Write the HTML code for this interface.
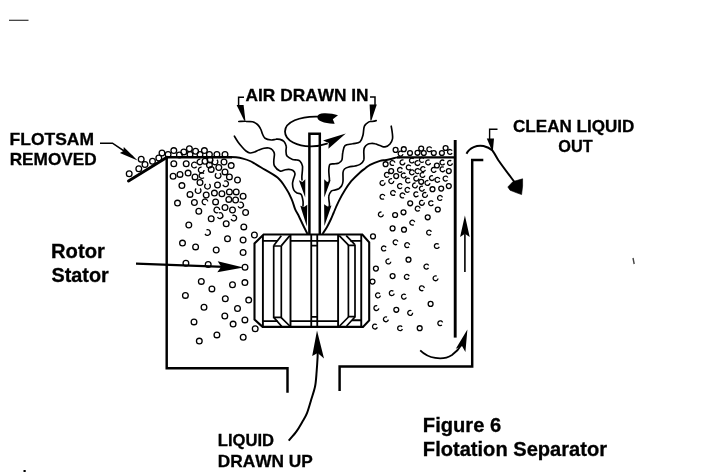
<!DOCTYPE html>
<html><head><meta charset="utf-8"><title>Figure 6 Flotation Separator</title>
<style>
html,body{margin:0;padding:0;background:#fff;}
body{width:720px;height:472px;overflow:hidden;font-family:"Liberation Sans",sans-serif;}
svg{display:block;}
text{font-family:"Liberation Sans",sans-serif;font-weight:bold;fill:#000;stroke:#000;stroke-width:0.3px;font-kerning:none;}
svg{filter:grayscale(1);}
</style></head><body>
<svg width="720" height="472" viewBox="0 0 720 472">
<rect width="720" height="472" fill="#fff"/>
<g fill="none" stroke="#000" stroke-width="1.3">
<circle cx="129.2" cy="173.8" r="2.85"/>
<circle cx="138.8" cy="168.8" r="2.85"/>
<circle cx="141.2" cy="159.2" r="2.85"/>
<circle cx="145.0" cy="164.5" r="2.85"/>
<circle cx="152.5" cy="161.2" r="2.85"/>
<circle cx="158.8" cy="158.0" r="2.85"/>
<circle cx="162.0" cy="153.0" r="2.85"/>
<circle cx="168.1" cy="154.4" r="2.85"/>
<circle cx="173.8" cy="150.6" r="2.85"/>
<circle cx="179.4" cy="155.0" r="2.85"/>
<circle cx="183.8" cy="151.9" r="2.85"/>
<circle cx="189.4" cy="148.8" r="2.85"/>
<circle cx="190.0" cy="154.4" r="2.85"/>
<circle cx="195.6" cy="151.2" r="2.85"/>
<circle cx="200.0" cy="154.4" r="2.85"/>
<circle cx="204.4" cy="150.6" r="2.85"/>
<circle cx="209.4" cy="154.4" r="2.85"/>
<circle cx="216.9" cy="154.4" r="2.85"/>
<circle cx="225.0" cy="154.4" r="2.85"/>
<circle cx="173.8" cy="163.8" r="2.85"/>
<circle cx="186.2" cy="163.8" r="2.85"/>
<path d="M196.7 166.7A2.85 2.85 0 1 1 196.7 163.3"/>
<path d="M202.8 162.0A2.85 2.85 0 1 1 200.4 159.1"/>
<circle cx="205.0" cy="161.2" r="2.85"/>
<circle cx="209.4" cy="165.0" r="2.85"/>
<path d="M216.9 159.8A2.85 2.85 0 1 1 213.1 159.8"/>
<circle cx="218.8" cy="167.5" r="2.85"/>
<circle cx="231.2" cy="165.6" r="2.85"/>
<path d="M204.1 170.1A2.85 2.85 0 1 1 201.6 167.2"/>
<circle cx="211.2" cy="169.4" r="2.85"/>
<circle cx="225.0" cy="171.9" r="2.85"/>
<circle cx="173.1" cy="176.2" r="2.85"/>
<circle cx="180.0" cy="174.4" r="2.85"/>
<circle cx="188.1" cy="173.1" r="2.85"/>
<circle cx="195.0" cy="176.9" r="2.85"/>
<path d="M204.0 177.6A2.85 2.85 0 1 1 204.0 173.6"/>
<path d="M219.8 173.3A2.85 2.85 0 1 1 216.4 173.3"/>
<circle cx="229.4" cy="176.9" r="2.85"/>
<circle cx="237.5" cy="180.0" r="2.85"/>
<circle cx="181.9" cy="185.6" r="2.85"/>
<circle cx="200.0" cy="182.5" r="2.85"/>
<path d="M209.3 184.0A2.85 2.85 0 1 1 205.7 184.0"/>
<circle cx="217.5" cy="185.0" r="2.85"/>
<path d="M224.1 181.3A2.85 2.85 0 1 1 222.9 184.7"/>
<circle cx="190.0" cy="194.4" r="2.85"/>
<path d="M200.0 188.5A2.85 2.85 0 1 1 196.2 188.5"/>
<circle cx="206.2" cy="195.0" r="2.85"/>
<circle cx="214.4" cy="193.1" r="2.85"/>
<circle cx="221.9" cy="193.8" r="2.85"/>
<circle cx="229.4" cy="191.9" r="2.85"/>
<circle cx="236.2" cy="191.9" r="2.85"/>
<circle cx="243.1" cy="196.2" r="2.85"/>
<circle cx="228.8" cy="199.4" r="2.85"/>
<circle cx="235.6" cy="200.0" r="2.85"/>
<circle cx="177.5" cy="203.1" r="2.85"/>
<circle cx="194.4" cy="202.5" r="2.85"/>
<path d="M205.8 204.6A2.85 2.85 0 1 1 207.8 201.3"/>
<circle cx="210.0" cy="160.0" r="2.85"/>
<circle cx="224.0" cy="162.0" r="2.85"/>
<path d="M239.5 202.4A2.85 2.85 0 1 1 238.1 206.3"/>
<circle cx="215.6" cy="201.9" r="2.85"/>
<circle cx="225.0" cy="207.5" r="2.85"/>
<circle cx="232.5" cy="210.0" r="2.85"/>
<circle cx="245.6" cy="212.5" r="2.85"/>
<circle cx="198.8" cy="211.2" r="2.85"/>
<path d="M218.2 212.5A2.85 2.85 0 1 1 219.7 209.9"/>
<path d="M218.9 213.0A2.85 2.85 0 1 1 217.5 217.0"/>
<circle cx="211.2" cy="218.8" r="2.85"/>
<path d="M232.4 215.6A2.85 2.85 0 1 1 231.1 219.1"/>
<circle cx="188.8" cy="225.0" r="2.85"/>
<circle cx="226.2" cy="223.8" r="2.85"/>
<circle cx="243.8" cy="226.9" r="2.85"/>
<path d="M206.5 229.8A2.85 2.85 0 1 1 205.0 233.9"/>
<circle cx="254.4" cy="235.0" r="2.85"/>
<circle cx="227.5" cy="238.8" r="2.85"/>
<circle cx="243.1" cy="240.0" r="2.85"/>
<circle cx="182.5" cy="243.1" r="2.85"/>
<circle cx="195.6" cy="246.9" r="2.85"/>
<circle cx="216.2" cy="250.0" r="2.85"/>
<circle cx="243.1" cy="252.5" r="2.85"/>
<circle cx="185.9" cy="263.3" r="2.85"/>
<circle cx="208.2" cy="264.4" r="2.85"/>
<circle cx="245.0" cy="267.3" r="2.85"/>
<circle cx="201.3" cy="281.4" r="2.85"/>
<circle cx="211.9" cy="288.9" r="2.85"/>
<circle cx="232.5" cy="284.7" r="2.85"/>
<circle cx="244.9" cy="282.6" r="2.85"/>
<circle cx="185.4" cy="295.4" r="2.85"/>
<circle cx="225.3" cy="298.8" r="2.85"/>
<circle cx="248.7" cy="300.1" r="2.85"/>
<circle cx="204.0" cy="307.3" r="2.85"/>
<circle cx="237.5" cy="308.5" r="2.85"/>
<circle cx="224.8" cy="316.0" r="2.85"/>
<circle cx="244.9" cy="319.9" r="2.85"/>
<circle cx="194.0" cy="321.9" r="2.85"/>
<circle cx="233.1" cy="324.1" r="2.85"/>
<circle cx="255.2" cy="328.7" r="2.85"/>
<circle cx="216.9" cy="334.9" r="2.85"/>
<circle cx="243.2" cy="337.3" r="2.85"/>
<circle cx="199.3" cy="341.1" r="2.85"/>
<circle cx="395.6" cy="149.9" r="2.45"/>
<circle cx="403.8" cy="149.2" r="2.45"/>
<path d="M403.0 154.2A2.45 2.45 0 1 1 402.6 152.2"/>
<circle cx="410.0" cy="153.0" r="2.45"/>
<circle cx="417.5" cy="152.8" r="2.45"/>
<circle cx="421.2" cy="148.6" r="2.45"/>
<circle cx="423.8" cy="153.0" r="2.45"/>
<path d="M431.6 150.2A2.45 2.45 0 1 1 431.6 148.3"/>
<circle cx="433.8" cy="153.0" r="2.45"/>
<circle cx="441.9" cy="153.0" r="2.45"/>
<circle cx="445.6" cy="148.0" r="2.45"/>
<path d="M452.1 153.2A2.45 2.45 0 1 1 452.1 150.7"/>
<circle cx="385.6" cy="164.2" r="2.45"/>
<path d="M393.9 165.0A2.45 2.45 0 1 1 394.9 162.7"/>
<path d="M404.9 162.6A2.45 2.45 0 1 1 403.5 160.2"/>
<path d="M414.1 161.6A2.45 2.45 0 1 1 413.7 158.8"/>
<path d="M419.9 163.5A2.45 2.45 0 1 1 418.5 160.8"/>
<path d="M423.7 161.6A2.45 2.45 0 1 1 423.9 158.5"/>
<path d="M430.5 163.0A2.45 2.45 0 1 1 429.5 160.4"/>
<circle cx="436.9" cy="165.5" r="2.45"/>
<path d="M444.6 163.7A2.45 2.45 0 1 1 444.2 160.7"/>
<path d="M452.4 163.3A2.45 2.45 0 1 1 451.3 160.9"/>
<path d="M410.8 168.8A2.45 2.45 0 1 1 410.8 166.1"/>
<path d="M402.0 171.3A2.45 2.45 0 1 1 402.3 169.2"/>
<circle cx="391.2" cy="171.1" r="2.45"/>
<path d="M388.8 176.4A2.45 2.45 0 1 1 389.3 174.3"/>
<path d="M419.2 172.9A2.45 2.45 0 1 1 419.6 169.8"/>
<path d="M425.4 169.9A2.45 2.45 0 1 1 425.1 167.8"/>
<path d="M436.1 170.7A2.45 2.45 0 1 1 435.2 167.9"/>
<path d="M444.8 170.2A2.45 2.45 0 1 1 443.8 167.2"/>
<circle cx="448.8" cy="171.1" r="2.45"/>
<circle cx="396.2" cy="176.1" r="2.45"/>
<path d="M406.1 176.0A2.45 2.45 0 1 1 405.4 173.7"/>
<path d="M414.2 173.3A2.45 2.45 0 1 1 414.2 171.4"/>
<path d="M424.9 175.6A2.45 2.45 0 1 1 424.0 173.0"/>
<path d="M418.7 178.5A2.45 2.45 0 1 1 417.4 176.4"/>
<path d="M434.3 178.5A2.45 2.45 0 1 1 432.9 175.8"/>
<path d="M439.7 180.9A2.45 2.45 0 1 1 439.8 179.0"/>
<path d="M447.5 180.1A2.45 2.45 0 1 1 447.8 177.6"/>
<path d="M384.9 182.6A2.45 2.45 0 1 1 383.7 180.9"/>
<path d="M393.7 180.9A2.45 2.45 0 1 1 392.0 178.8"/>
<path d="M402.0 187.5A2.45 2.45 0 1 1 402.1 184.9"/>
<path d="M410.2 181.7A2.45 2.45 0 1 1 409.7 178.7"/>
<circle cx="421.2" cy="181.8" r="2.45"/>
<path d="M417.4 185.4A2.45 2.45 0 1 1 415.6 183.1"/>
<path d="M429.9 183.1A2.45 2.45 0 1 1 428.4 180.7"/>
<circle cx="448.8" cy="186.1" r="2.45"/>
<path d="M424.3 189.0A2.45 2.45 0 1 1 422.9 186.4"/>
<circle cx="432.5" cy="189.2" r="2.45"/>
<circle cx="441.2" cy="188.6" r="2.45"/>
<path d="M409.4 191.4A2.45 2.45 0 1 1 409.8 189.1"/>
<path d="M395.0 194.5A2.45 2.45 0 1 1 395.5 192.6"/>
<path d="M404.0 197.4A2.45 2.45 0 1 1 404.9 194.8"/>
<path d="M418.4 195.5A2.45 2.45 0 1 1 418.0 192.6"/>
<path d="M427.4 194.6A2.45 2.45 0 1 1 426.3 192.9"/>
<path d="M384.0 198.7A2.45 2.45 0 1 1 384.8 195.9"/>
<path d="M442.0 199.4A2.45 2.45 0 1 1 442.4 197.4"/>
<circle cx="410.2" cy="203.3" r="2.45"/>
<path d="M424.3 202.4A2.45 2.45 0 1 1 423.3 200.8"/>
<path d="M433.3 204.4A2.45 2.45 0 1 1 433.1 201.8"/>
<path d="M419.6 210.2A2.45 2.45 0 1 1 420.1 208.3"/>
<circle cx="437.8" cy="209.5" r="2.45"/>
<circle cx="403.5" cy="212.3" r="2.45"/>
<circle cx="395.1" cy="215.0" r="2.45"/>
<path d="M383.3 214.5A2.45 2.45 0 1 1 381.5 212.1"/>
<circle cx="427.7" cy="217.3" r="2.45"/>
<path d="M413.7 224.6A2.45 2.45 0 1 1 414.7 222.2"/>
<circle cx="392.6" cy="228.4" r="2.45"/>
<circle cx="404.0" cy="229.7" r="2.45"/>
<path d="M430.9 234.3A2.45 2.45 0 1 1 431.4 231.8"/>
<circle cx="373.0" cy="236.4" r="2.45"/>
<path d="M397.0 244.3A2.45 2.45 0 1 1 397.9 241.4"/>
<path d="M409.0 246.8A2.45 2.45 0 1 1 409.6 244.8"/>
<path d="M439.2 246.7A2.45 2.45 0 1 1 438.7 244.4"/>
<path d="M385.9 249.9A2.45 2.45 0 1 1 386.1 247.4"/>
<circle cx="408.5" cy="259.7" r="2.45"/>
<path d="M390.8 261.7A2.45 2.45 0 1 1 389.3 259.2"/>
<path d="M428.5 267.9A2.45 2.45 0 1 1 428.6 265.5"/>
<circle cx="375.9" cy="268.6" r="2.45"/>
<circle cx="392.6" cy="276.1" r="2.45"/>
<path d="M408.9 278.2A2.45 2.45 0 1 1 409.2 276.2"/>
<path d="M438.0 278.5A2.45 2.45 0 1 1 436.7 276.1"/>
<circle cx="372.5" cy="281.6" r="2.45"/>
<path d="M423.3 290.3A2.45 2.45 0 1 1 424.3 288.1"/>
<path d="M380.4 295.7A2.45 2.45 0 1 1 379.9 293.8"/>
<path d="M394.2 293.6A2.45 2.45 0 1 1 393.4 291.3"/>
<path d="M406.3 297.4A2.45 2.45 0 1 1 405.7 294.9"/>
<circle cx="430.6" cy="303.9" r="2.45"/>
<path d="M378.8 308.4A2.45 2.45 0 1 1 377.2 305.8"/>
<circle cx="396.3" cy="309.8" r="2.45"/>
<path d="M412.6 312.7A2.45 2.45 0 1 1 411.4 310.8"/>
<path d="M388.3 319.6A2.45 2.45 0 1 1 387.0 317.1"/>
<path d="M441.9 325.1A2.45 2.45 0 1 1 442.6 322.4"/>
<path d="M377.3 327.3A2.45 2.45 0 1 1 376.7 324.8"/>
<path d="M402.4 329.1A2.45 2.45 0 1 1 402.1 326.8"/>
<circle cx="419.7" cy="328.2" r="2.45"/>
</g>
<g fill="none" stroke="#000" stroke-linecap="butt" stroke-linejoin="miter">
<path d="M166.7 156.5V368.2H287.5V392.8" stroke-width="2.45"/>
<path d="M339.6 391V366.4H472.2V160H483.3" stroke-width="2.45"/>
<path d="M455.2 140V337.6" stroke-width="2.9"/>
<path d="M128.5 181L167 157.3" stroke-width="3" stroke-linecap="round"/>
<path d="M228.0 157.0C229.3 157.1 233.5 157.0 236.0 157.3C238.5 157.6 240.7 158.0 243.0 158.6C245.3 159.2 248.0 160.1 250.0 161.0C252.0 161.9 253.1 162.7 255.0 163.8C256.9 164.9 257.5 165.2 261.2 167.5C265.0 169.8 273.3 174.0 277.5 177.5C281.7 181.0 283.9 185.2 286.2 188.8C288.6 192.3 290.0 195.4 291.5 198.8C293.0 202.1 293.8 205.8 295.0 208.8C296.2 211.7 297.7 213.8 299.0 216.5C300.3 219.2 301.6 222.1 303.0 225.0C304.4 227.9 306.8 232.5 307.5 234.0" stroke-width="1.9"/>
<path d="M166 157.3H232" stroke-width="2.4"/>
<path d="M400.0 157.4C399.3 157.4 397.5 157.3 396.0 157.6C394.5 157.9 392.8 158.6 391.0 159.0C389.2 159.4 386.8 159.9 385.0 160.2C383.2 160.5 382.5 160.0 380.0 160.8C377.5 161.6 372.5 163.5 370.0 164.8C367.5 166.1 366.7 167.2 365.0 168.5C363.3 169.8 362.3 170.4 360.0 172.5C357.7 174.6 353.8 178.3 351.2 181.2C348.8 184.2 347.1 186.7 345.0 190.0C342.9 193.3 340.6 197.5 338.8 201.2C336.9 205.0 335.0 209.5 333.8 212.5C332.5 215.5 332.1 216.6 331.0 219.0C329.9 221.4 328.4 224.5 327.0 227.0C325.6 229.5 323.2 232.8 322.5 234.0" stroke-width="1.9"/>
<path d="M455 157.4H397" stroke-width="2.4"/>
<path d="M309.4 234V133.7H319.8V234" stroke-width="2.5" fill="#fff"/>
</g>
<g fill="none" stroke="#000" stroke-linejoin="miter">
<path d="M263.6 234.5H362.3L369.2 242.4V320.4L363 326.9H262.6L254.5 319.5V243.4Z" stroke-width="2.1" fill="#fff"/>
<path d="M262.9 240.9H277M290.6 240.9H338.2M350.3 240.9H361.2" stroke-width="1.9"/>
<path d="M262.9 321.1H277.6M290.3 321.1H338M352 320.2H361.3" stroke-width="1.9"/>
<path d="M262.9 235V326.5M290.5 235V326.5M338.1 235V326.5M361.25 235V326.5" stroke-width="1.9"/>
<path d="M273.7 246V317.3H281.3V246Z" stroke-width="1.7"/>
<path d="M273.8 245.6L281.3 235.8M281.4 245.6L289.8 235.6M274 317.6L282 326.8M281.2 317.6L289.8 326" stroke-width="1.7"/>
<path d="M348.4 245.3V316.6H355V245.3Z" stroke-width="1.7"/>
<path d="M339.2 235.6L348.5 245.2M346.2 235.6L354.9 244.6M348.5 317L339.6 326M354.9 317L346.6 326" stroke-width="1.7"/>
<path d="M311.25 235V326M317.25 235V326M311.25 245.6H317.25M311.25 316.9H317.25" stroke-width="1.8"/>
</g>
<g fill="none" stroke="#000" stroke-width="1.65" stroke-linecap="round" stroke-linejoin="round">
<path d="M238.8 121.5C240.0 121.5 243.7 121.2 246.0 121.3C248.3 121.3 250.6 121.3 252.5 121.8C254.4 122.3 256.1 123.3 257.5 124.5C258.9 125.7 259.8 127.2 260.6 128.8C261.4 130.3 261.8 132.4 262.5 134.0C263.2 135.6 263.5 137.2 265.0 138.2C266.5 139.2 269.4 139.8 271.2 140.0C273.1 140.2 274.5 139.3 276.0 139.2C277.5 139.1 278.7 139.0 280.0 139.4C281.3 139.8 283.0 140.4 284.0 141.5C285.0 142.6 285.9 144.7 286.2 146.2C286.6 147.8 285.9 149.4 286.0 151.0C286.1 152.6 285.9 154.6 287.0 156.0C288.1 157.4 290.8 158.7 292.5 159.4C294.2 160.1 295.8 159.7 297.0 160.0C298.2 160.3 299.1 160.2 300.0 161.2C300.9 162.3 302.2 163.8 302.5 166.2C302.8 168.8 302.0 174.0 301.9 176.2C301.8 178.5 302.0 179.4 302.0 180.0"/>
<path d="M234.4 136.2C235.0 137.2 236.7 140.1 238.0 142.0C239.3 143.9 241.2 146.0 242.5 147.5C243.8 149.0 244.8 150.1 246.0 151.0C247.2 151.9 248.6 152.8 250.0 153.0C251.4 153.2 253.0 152.5 254.5 152.0C256.0 151.5 257.2 150.6 258.8 150.0C260.3 149.4 262.3 148.5 264.0 148.2C265.7 147.9 267.3 147.7 268.8 148.0C270.2 148.3 271.6 149.0 272.5 150.0C273.4 151.0 274.2 151.9 274.4 153.8C274.6 155.6 273.7 159.0 273.8 161.0C273.8 163.0 273.5 164.3 274.5 166.0C275.5 167.7 278.3 170.3 280.0 171.0C281.7 171.7 283.0 170.3 284.5 170.0C286.0 169.7 287.3 169.3 288.8 169.4C290.2 169.5 292.0 169.8 293.0 170.5C294.0 171.2 294.9 172.3 295.0 173.8C295.1 175.2 293.9 177.3 293.5 179.0C293.1 180.7 292.5 181.9 292.5 183.8C292.5 185.6 293.0 188.5 293.8 190.0C294.5 191.5 295.8 192.3 297.0 193.0C298.2 193.7 300.2 193.1 301.2 194.4C302.2 195.7 302.7 199.1 303.0 201.0C303.3 202.9 303.0 205.2 303.0 206.0"/>
<path d="M376.2 120.6C375.5 120.8 373.2 121.3 372.0 121.5C370.8 121.7 370.0 121.1 368.8 121.9C367.5 122.7 365.4 124.1 364.4 126.2C363.4 128.4 363.7 132.4 363.0 135.0C362.3 137.6 361.8 140.4 360.0 141.9C358.2 143.4 355.0 143.1 352.5 143.8C350.0 144.4 346.6 144.1 345.0 145.6C343.4 147.1 343.3 150.1 342.8 152.5C342.2 154.9 342.6 158.2 341.9 160.0C341.2 161.8 339.9 162.4 338.8 163.0C337.6 163.6 336.5 163.5 335.0 163.8C333.5 164.0 331.0 163.4 330.0 164.4C329.0 165.4 328.9 167.6 328.8 170.0C328.6 172.4 329.3 176.9 329.4 178.8C329.5 180.6 329.3 180.6 329.3 181.0"/>
<path d="M391.2 126.2C391.4 127.4 392.1 130.9 392.3 133.0C392.5 135.1 392.9 136.9 392.5 138.8C392.1 140.6 391.2 142.6 390.0 144.0C388.8 145.4 386.7 146.7 385.0 146.9C383.3 147.2 381.7 146.0 380.0 145.5C378.3 145.0 376.5 144.1 375.0 143.8C373.5 143.4 372.2 143.4 371.0 143.5C369.8 143.6 368.6 143.7 367.5 144.4C366.4 145.1 365.1 146.4 364.5 147.5C363.9 148.6 363.9 149.2 363.8 151.2C363.6 153.3 364.4 157.8 363.8 160.0C363.1 162.2 361.5 163.4 360.0 164.4C358.5 165.4 356.9 165.6 355.0 166.0C353.1 166.4 350.5 166.5 348.8 167.0C347.0 167.5 345.5 168.1 344.5 169.0C343.5 169.9 343.2 170.5 343.0 172.5C342.8 174.5 343.2 179.0 343.0 181.2C342.8 183.5 342.2 184.8 341.5 186.0C340.8 187.2 339.8 188.1 338.8 188.8C337.7 189.4 336.2 189.6 335.0 190.0C333.8 190.4 332.3 190.2 331.2 191.2C330.2 192.3 329.1 194.2 328.8 196.2C328.4 198.3 329.3 202.1 329.4 203.8C329.5 205.4 329.3 205.6 329.3 206.0"/>
</g>
<path d="M305.2 197.5L298.9 180.3L302.4 181.9L305.3 179.2Z" fill="#000" stroke="none"/>
<path d="M306.8 226.5L300.3 205.7L304.0 206.9L307.3 204.7Z" fill="#000" stroke="none"/>
<path d="M324.3 197.5L324.2 179.2L327.1 181.9L330.6 180.3Z" fill="#000" stroke="none"/>
<path d="M324.4 226.0L324.1 204.2L327.5 206.5L331.5 205.4Z" fill="#000" stroke="none"/>
<g fill="none" stroke="#000" stroke-width="1.5">
<path d="M244 97.2H238.6V106"/>
<path d="M370 96.9H375V106"/>
</g>
<path d="M236.6 105L243.6 105L245.3 119.8L244.4 121Z" fill="#000"/>
<path d="M369.6 104.6L376.8 104.6L371.4 120.6L370.4 120.6Z" fill="#000"/>
<g fill="none" stroke="#000" stroke-width="1.8" stroke-linecap="round">
<path d="M318 116.6C300 116 285 122 285 131.5C285 141 298 146.5 311 146.3C318 146.2 323 145 327 143.6"/>
</g>
<path d="M317.4 116.9C317.6 114.6 320 113.5 324 113.3C329 113.1 334 114 338 115.3L332.8 119.3L334.7 123.7C330 123.9 325 123.2 321.5 121.6C319 120.4 317.2 118.9 317.4 116.9Z" fill="#000"/>
<path d="M345.8 133.6L323 140.4L328.8 143L328.4 148.8Z" fill="#000"/>
<path d="M100 143.2H112.5L133 157" fill="none" stroke="#000" stroke-width="1.6"/>
<path d="M137.6 160.6L119.9 152.9L123.4 151.0L123.8 147.1Z" fill="#000" stroke="none"/>
<path d="M136 263.6L224 266.9" fill="none" stroke="#000" stroke-width="2.2"/>
<path d="M243.5 267.6L217.3 272.2L221.2 266.8L217.7 261.2Z" fill="#000" stroke="none"/>
<path d="M288.7 440.7C290.0 439.1 294.2 434.6 296.5 431.4C298.8 428.2 300.7 424.6 302.5 421.5C304.3 418.4 305.7 416.4 307.1 412.8C308.5 409.2 309.8 404.4 311.1 400.0C312.4 395.6 314.2 391.0 315.1 386.3C316.0 381.6 316.2 376.9 316.6 372.0C317.0 367.1 317.4 360.7 317.6 357.0C317.8 353.3 317.6 351.2 317.6 350.0" fill="none" stroke="#000" stroke-width="2"/>
<path d="M317 330.4L312.2 356L317.7 353L324 358.6Z" fill="#000"/>
<path d="M466.5 153.7C469.5 147.5 477 144.8 483.5 146C487.5 146.9 490.3 148.6 492.5 150.6C495 154 496.5 157 498.2 160C501 164 508 173.5 512 178.75L516 184" fill="none" stroke="#000" stroke-width="2"/>
<path d="M507.8 187L513 181.6L522.6 178.8L522.6 186L521.6 194.6L516 192.6L510 190.2Z" fill="#000" stroke="#000" stroke-width="0.6" stroke-linejoin="round"/>
<path d="M497.5 129.2H489.6V139" fill="none" stroke="#000" stroke-width="1.4"/>
<path d="M486.8 138.6L494 138.6L492.9 150.6L491.9 150.6Z" fill="#000"/>
<path d="M464.9 272V234" fill="none" stroke="#000" stroke-width="1.6"/>
<path d="M464.9 215.5L469.7 237.0L464.9 233.8L460.1 237.0Z" fill="#000" stroke="none"/>
<path d="M420.2 350.3C428 358 442 361.5 452 355C457 351.5 460 347.5 462 344" fill="none" stroke="#000" stroke-width="1.8"/>
<path d="M467.4 329.4L465.4 351.9L462.0 346.1L455.8 348.8Z" fill="#000" stroke="none"/>
<path d="M9 20.3H28.5" stroke="#333" stroke-width="1.2" fill="none"/>
<rect x="23.5" y="470" width="2.2" height="2" fill="#000"/>
<path d="M633 258L634.2 264" stroke="#444" stroke-width="1.4" fill="none"/>
<g>
<text x="9.63" y="144.6" font-size="17" textLength="84.33" lengthAdjust="spacingAndGlyphs">FLOTSAM</text>
<text x="9.65" y="165.3" font-size="17" textLength="87.08" lengthAdjust="spacingAndGlyphs">REMOVED</text>
<text x="245.57" y="101.0" font-size="17" textLength="123.00" lengthAdjust="spacingAndGlyphs">AIR DRAWN IN</text>
<text x="513.05" y="132.4" font-size="17" textLength="121.37" lengthAdjust="spacingAndGlyphs">CLEAN LIQUID</text>
<text x="558.33" y="152.4" font-size="17" textLength="34.34" lengthAdjust="spacingAndGlyphs">OUT</text>
<text x="51.05" y="257.5" font-size="19.4" textLength="53.75" lengthAdjust="spacingAndGlyphs">Rotor</text>
<text x="51.53" y="281.5" font-size="19.4" textLength="57.27" lengthAdjust="spacingAndGlyphs">Stator</text>
<text x="217.79" y="446.2" font-size="16.6" textLength="56.31" lengthAdjust="spacingAndGlyphs">LIQUID</text>
<text x="217.75" y="466.5" font-size="16.6" textLength="94.94" lengthAdjust="spacingAndGlyphs">DRAWN UP</text>
<text x="422.85" y="431.7" font-size="19.4" textLength="78.38" lengthAdjust="spacingAndGlyphs">Figure 6</text>
<text x="422.86" y="455.8" font-size="19.4" textLength="184.15" lengthAdjust="spacingAndGlyphs">Flotation Separator</text>
</g>
</svg>
</body></html>
